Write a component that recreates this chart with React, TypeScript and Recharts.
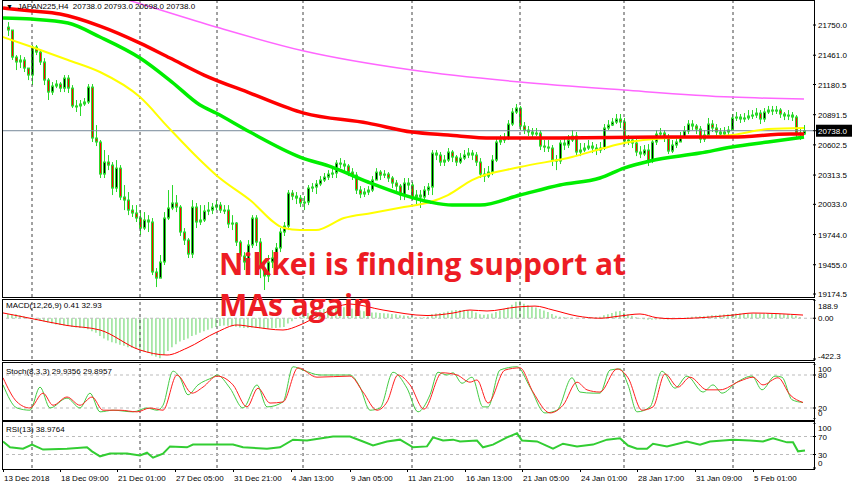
import React from 'react';
import { ComposedChart, Bar, Line, XAxis, YAxis, ReferenceLine } from 'recharts';

// JAPAN225 H4 candles, 13 Dec 2018 - 6 Feb 2019 (open = previous close)
const firstOpen = 21730;
const closes = [
  21702, 21443, 21396, 21415, 21338, 21271, 21539, 21491, 21396, 21223,
  21108, 21166, 21185, 21146, 21242, 21146, 20975, 20975, 20994, 21013,
  21156, 20668, 20630, 20323, 20438, 20409, 20189, 20380, 20103, 20074,
  19978, 19950, 19902, 19806, 19883, 19864, 19385, 19327, 19481, 19902,
  19998, 20046, 20007, 19768, 19691, 19557, 20007, 19864, 19883, 19969,
  19978, 20007, 20026, 19978, 19978, 19845, 19854, 19672, 19538, 19481,
  19644, 19902, 19672, 19423, 19347, 19481, 19519, 19615, 19768, 19825,
  20141, 20112, 20093, 20046, 20055, 20189, 20199, 20228, 20266, 20294,
  20323, 20333, 20428, 20419, 20400, 20342, 20313, 20170, 20132, 20151,
  20170, 20266, 20342, 20313, 20323, 20285, 20237, 20208, 20122, 20237,
  20218, 20103, 20122, 20103, 20170, 20199, 20524, 20505, 20438, 20457,
  20534, 20486, 20438, 20476, 20505, 20524, 20505, 20438, 20323, 20304,
  20342, 20457, 20630, 20649, 20668, 20802, 20917, 20955, 20783, 20744,
  20726, 20706, 20716, 20591, 20582, 20572, 20457, 20448, 20620, 20601,
  20649, 20687, 20534, 20553, 20572, 20591, 20572, 20553, 20572, 20764,
  20792, 20821, 20850, 20821, 20639, 20649, 20620, 20534, 20515, 20553,
  20448, 20630, 20706, 20716, 20668, 20543, 20601, 20630, 20677, 20735,
  20802, 20783, 20754, 20658, 20697, 20802, 20764, 20726, 20706, 20726,
  20744, 20860, 20869, 20850, 20860, 20879, 20888, 20907, 20850, 20917,
  20936, 20926, 20936, 20898, 20879, 20888, 20869, 20716, 20706, 20738,
];
const highs = [
  21778, 21702, 21462, 21462, 21443, 21338, 21558, 21558, 21510, 21433,
  21242, 21204, 21223, 21204, 21271, 21271, 21175, 21032, 21032, 21051,
  21185, 21185, 20792, 20649, 20553, 20505, 20438, 20457, 20409, 20218,
  20151, 20026, 20026, 19978, 19959, 19930, 19902, 19423, 19548, 19959,
  20170, 20218, 20122, 20026, 19806, 19710, 20074, 20046, 20026, 20026,
  20055, 20046, 20074, 20055, 20026, 20026, 19930, 19864, 19691, 19576,
  19691, 19930, 19930, 19710, 19481, 19548, 19595, 19663, 19806, 19864,
  20170, 20170, 20151, 20122, 20112, 20218, 20237, 20266, 20304, 20333,
  20361, 20380, 20457, 20476, 20457, 20419, 20380, 20342, 20208, 20189,
  20208, 20304, 20380, 20361, 20361, 20342, 20304, 20266, 20228, 20285,
  20285, 20247, 20170, 20170, 20208, 20237, 20553, 20553, 20534, 20505,
  20572, 20553, 20505, 20524, 20553, 20572, 20553, 20534, 20476, 20380,
  20400, 20505, 20668, 20697, 20716, 20840, 20955, 20994, 20975, 20821,
  20783, 20764, 20764, 20744, 20649, 20649, 20601, 20505, 20649, 20668,
  20697, 20744, 20726, 20620, 20620, 20649, 20630, 20610, 20630, 20802,
  20840, 20860, 20898, 20898, 20860, 20697, 20687, 20668, 20591, 20601,
  20610, 20668, 20744, 20764, 20744, 20706, 20649, 20687, 20726, 20783,
  20840, 20840, 20802, 20783, 20744, 20860, 20840, 20802, 20764, 20773,
  20783, 20898, 20917, 20898, 20907, 20936, 20936, 20955, 20936, 20955,
  20975, 20975, 20975, 20955, 20917, 20936, 20917, 20888, 20764, 20793,
];
const lows = [
  21645, 21415, 21319, 21338, 21300, 21223, 21175, 21462, 21367, 21175,
  21032, 21080, 21146, 21108, 21108, 21099, 20955, 20917, 20879, 20975,
  20994, 20630, 20591, 20285, 20285, 20361, 20122, 20151, 20074, 19978,
  19930, 19912, 19864, 19739, 19787, 19768, 19356, 19241, 19356, 19452,
  19883, 19978, 19959, 19730, 19644, 19519, 19519, 19806, 19835, 19864,
  19930, 19940, 19978, 19950, 19940, 19806, 19787, 19634, 19500, 19404,
  19423, 19615, 19634, 19327, 19213, 19289, 19423, 19481, 19576, 19730,
  19787, 20074, 20036, 20007, 19978, 20026, 20151, 20132, 20208, 20247,
  20266, 20285, 20285, 20380, 20342, 20304, 20266, 20132, 20093, 20103,
  20122, 20151, 20266, 20266, 20285, 20247, 20189, 20151, 20074, 20074,
  20170, 20074, 20017, 19998, 20074, 20122, 20122, 20457, 20400, 20400,
  20438, 20438, 20400, 20419, 20457, 20476, 20457, 20400, 20285, 20247,
  20285, 20313, 20438, 20601, 20620, 20649, 20783, 20898, 20744, 20706,
  20687, 20668, 20687, 20553, 20534, 20534, 20400, 20361, 20419, 20553,
  20572, 20630, 20495, 20495, 20534, 20553, 20524, 20505, 20524, 20553,
  20744, 20783, 20802, 20764, 20601, 20601, 20572, 20495, 20476, 20495,
  20400, 20428, 20601, 20668, 20630, 20515, 20524, 20572, 20630, 20687,
  20706, 20744, 20706, 20620, 20630, 20687, 20726, 20687, 20668, 20677,
  20697, 20744, 20831, 20812, 20821, 20840, 20850, 20860, 20802, 20821,
  20898, 20888, 20898, 20860, 20840, 20840, 20831, 20677, 20649, 20698,
];

// MACD(12,26,9) histogram, one value per candle
const macdHist = [
  45, 42, 40, 30, 20, 5, -10, -20, -25, -35,
  -45, -55, -65, -70, -75, -80, -90, -95, -100, -105,
  -115, -135, -150, -185, -210, -230, -250, -260, -275, -285,
  -300, -305, -315, -330, -345, -355, -385, -400, -415, -380,
  -340, -300, -270, -240, -225, -210, -185, -170, -150, -135,
  -120, -105, -90, -80, -75, -78, -82, -88, -95, -100,
  -100, -95, -98, -105, -110, -108, -105, -100, -95, -90,
  -55, -30, -5, 15, 35, 55, 65, 75, 85, 95,
  105, 110, 120, 120, 115, 110, 100, 90, 80, 72,
  65, 60, 60, 55, 52, 50, 45, 40, 30, 28,
  22, 15, 10, 8, 10, 15, 40, 50, 55, 60,
  70, 80, 85, 85, 82, 80, 75, 60, 40, 35,
  40, 50, 65, 80, 95, 110, 140, 170, 180, 150,
  135, 120, 110, 95, 80, 65, 45, 25, 15, 10,
  8, 5, 3, 3, 5, 5, 8, 10, 15, 30,
  40, 55, 70, 75, 60, 40, 25, 10, -5, -10,
  -15, -15, -12, -10, -10, -12, -10, -8, -5, 2,
  10, 15, 18, 20, 20, 25, 30, 32, 35, 38,
  40, 45, 48, 48, 47, 47, 47, 48, 46, 46,
  46, 46, 45, 44, 42, 40, 35, 25, 12, 0.41,
];

// [candle index, value]
const macdSignal = [
  [-1.25, 55], [5.5, 0], [14.75, -75], [23, -122], [33, -329], [39.75, -381], [44.75, -309],
  [52.25, -143], [57.25, -70], [61.25, -90], [68.75, -122], [73, -70], [78, 33], [85.5, 147],
  [93.75, 85], [104.75, 28], [111.25, 54], [115.5, 85], [119.75, 75], [127.25, 116], [131.75, 126],
  [136.25, 85], [142.25, 23], [148, 0], [153, 23], [158, 44], [162.25, 5], [166.25, -5], [173, 5],
  [181.25, 33], [186.25, 54], [198.75, 33],
];
const maRed = [
  [-1.25, 21912], [6, 21884], [13, 21855], [23, 21740], [33, 21577], [40.5, 21434], [49, 21271],
  [60.5, 21099], [74, 20907], [90, 20811], [101, 20725], [110, 20697], [121, 20668], [138, 20668],
  [163, 20677], [181, 20677], [195.5, 20706], [199, 20706],
];
const maGreen = [
  [-1.25, 21817], [6, 21807], [15, 21769], [23, 21635], [33, 21434], [41, 21204], [48, 20984],
  [52, 20907], [60.5, 20725], [73, 20486], [81, 20390], [90, 20247], [99, 20122], [105.5, 20055],
  [111, 20026], [118, 20026], [128, 20122], [138, 20218], [148, 20285], [154, 20380], [160.5, 20448],
  [173, 20524], [181, 20582], [190, 20630], [199, 20677],
];
const maYellow = [
  [-1.25, 21635], [6, 21539], [15, 21415], [23, 21300], [33, 21060], [40, 20773], [48, 20457],
  [52, 20314], [60.5, 20074], [69, 19806], [73, 19787], [77, 19787], [84, 19902], [91, 19950],
  [99, 20007], [105.5, 20055], [110, 20122], [116, 20266], [128, 20390], [141, 20486], [149, 20572],
  [154, 20620], [165, 20668], [173, 20677], [181, 20697], [190, 20754], [199, 20764],
];
const maMagenta = [
  [13, 22180], [30, 21989], [52, 21731], [74, 21501], [101, 21319], [128, 21204], [154, 21127],
  [181, 21060], [199, 21041],
];
const stochMain = [
  [-1.25, 62], [2.25, 20], [5.5, 16], [8, 58], [10.5, 20], [14.75, 38], [18, 20], [20.5, 47], [23, 13],
  [26.25, 16], [31.25, 13], [34.75, 20], [37.25, 16], [38.75, 25], [41.25, 87], [43, 75], [45, 44],
  [47.5, 62], [51.25, 76], [52.25, 80], [55.5, 56], [58.75, 20], [62.25, 62], [64.75, 22], [68.75, 31],
  [71.25, 95], [73.75, 89], [78, 80], [85.5, 80], [88, 58], [90.5, 16], [93, 20], [96.25, 85],
  [99.75, 56], [102.5, 13], [105.5, 44], [107.5, 85], [109.75, 80], [111.25, 84], [113.5, 65], [116, 76],
  [118.75, 22], [120, 22], [123, 89], [127.25, 95], [130.5, 58], [134.25, 11], [137.25, 16], [141, 75],
  [143, 49], [146.25, 47], [148, 47], [150.5, 89], [153, 91], [155, 62], [157.25, 13], [160.5, 22],
  [163.5, 87], [166.75, 56], [169.75, 78], [173.75, 49], [176.25, 62], [178.5, 47], [182.25, 67],
  [186, 78], [188.5, 53], [191.75, 78], [193.5, 76], [196, 35], [198.75, 30],
];
const stochSignal = [
  [-1.25, 75], [2.25, 31], [5.5, 20], [8.75, 47], [11.25, 25], [14.75, 40], [18, 25], [21, 40],
  [23.75, 16], [28, 16], [32.25, 13], [35.5, 20], [38.75, 16], [42.25, 80], [46, 47], [48.75, 58],
  [52.25, 78], [56.25, 62], [59.75, 22], [62.5, 56], [65.5, 29], [68.75, 31], [72.5, 93], [77.25, 76],
  [85.5, 78], [88.75, 49], [92.25, 16], [94.75, 31], [97.5, 80], [100.5, 62], [104, 18], [108.5, 84],
  [112.25, 80], [115.5, 67], [117.25, 71], [120, 29], [124.25, 89], [128, 93], [131.25, 49], [135.5, 11],
  [138.75, 25], [142.25, 67], [144.75, 53], [148, 49], [152.25, 91], [155, 75], [158.5, 16], [161.25, 22],
  [164.25, 82], [167.5, 58], [170.5, 76], [174.75, 53], [178, 53], [183, 69], [186.25, 76], [188.75, 62],
  [192.5, 75], [195.5, 44], [198.75, 30],
];
const rsi = [
  [-1.25, 59], [0.5, 46], [3.75, 43], [6, 52], [8.75, 41], [14.75, 43], [19.75, 46], [21, 37], [23, 26],
  [25.5, 32], [29.75, 32], [33, 28], [34.75, 34], [36.25, 23], [38.75, 32], [40.5, 48], [44.75, 46],
  [46.25, 52], [52.25, 52], [56.25, 52], [58.75, 46], [64.75, 43], [68, 46], [71.25, 63], [74.75, 61],
  [81.25, 70], [85.5, 70], [88.75, 59], [91.25, 50], [94.75, 59], [98, 63], [101.25, 46], [104.75, 48],
  [106.25, 68], [108.75, 61], [111.25, 63], [113, 59], [117.25, 61], [118.75, 46], [121.25, 52],
  [124.75, 68], [127.25, 77], [128.5, 61], [132.25, 59], [136.25, 43], [138.75, 54], [142.25, 48],
  [146.25, 52], [149.75, 63], [153, 66], [155, 50], [157.25, 43], [159.75, 43], [161.25, 54],
  [164.75, 48], [169.75, 59], [173, 52], [175.5, 59], [181.25, 63], [185.5, 61], [188.75, 59],
  [191.25, 66], [194.75, 57], [196.25, 57], [197.5, 37], [199.25, 39],
];

const priceTicks = [21750, 21461, 21180.5, 20891.5, 20602.5, 20313.5, 20033, 19744, 19455, 19174.5];
const lastPrice = 20738;
const macdTicks = [188.9, 0, -422.3];
const stochTicks = [100, 80, 20, 0];
const rsiTicks = [100, 70, 30, 0];
const timeTickIdx = [-1.25, 13, 27.25, 41.75, 56.25, 70.75, 85.5, 99.75, 114.25, 128.5, 143, 157.25, 171.75, 186.25];
const timeLabels = [
  '13 Dec 2018', '18 Dec 09:00', '21 Dec 01:00', '27 Dec 05:00', '31 Dec 21:00', '4 Jan 13:00',
  '9 Jan 05:00', '11 Jan 21:00', '16 Jan 13:00', '21 Jan 05:00', '24 Jan 01:00', '28 Jan 17:00',
  '31 Jan 09:00', '5 Feb 01:00',
];
const dayLineIdx = [6, 33, 52.25, 73.75, 101, 128, 154, 181.25];

const FONT = '"Liberation Sans", Arial, sans-serif';
const X_DOMAIN: [number, number] = [-1.25, 201.25];
const WICK = '#2ad82a';

const bars = closes.map((c, i) => {
  const open = i === 0 ? firstOpen : closes[i - 1];
  const high = Math.max(highs[i], open, c);
  const low = Math.min(lows[i], open, c);
  return { i, open, close: c, high, low, range: [low, high], hist: macdHist[i] };
});
const pts = (arr: number[][]) => arr.map(([i, v]) => ({ i, v }));

const Candle = (props: any) => {
  const { x, y, width, height, payload } = props;
  if (!payload) return null;
  const { open, close, high, low } = payload;
  const top = Math.min(y, y + height);
  const h = Math.abs(height);
  const cx = Math.round(x + width / 2) + 0.5;
  const py = (v: number) => top + ((high - v) / (high - low || 1)) * h;
  const bTop = py(Math.max(open, close));
  const bBot = py(Math.min(open, close));
  const up = close >= open;
  return (
    <g>
      <line x1={cx} x2={cx} y1={top} y2={top + h} stroke={WICK} strokeWidth={1} />
      <rect x={cx - 1} y={bTop} width={2} height={Math.max(bBot - bTop, 1)}
        fill={up ? '#000' : '#ff0000'} stroke={WICK} strokeWidth={1} />
    </g>
  );
};

const PriceTick = ({ x, y, payload }: any) => {
  const v = payload.value;
  if (v === lastPrice) {
    return (
      <g>
        <rect x={x - 2} y={y - 6} width={36} height={12} fill="#000" />
        <text x={x} y={y} dy={3} fontSize={8} fontFamily={FONT} fill="#fff">{v.toFixed(1)}</text>
      </g>
    );
  }
  return <text x={x} y={y} dy={3} fontSize={8} fontFamily={FONT} fill="#000">{v.toFixed(1)}</text>;
};

const SideTick = ({ x, y, payload, shifts, fmt }: any) => {
  const v = payload.value;
  const dy = (shifts && shifts[String(v)]) || 0;
  return (
    <text x={x} y={y + dy} dy={3} fontSize={8} fontFamily={FONT} fill="#000">
      {fmt ? fmt(v) : v}
    </text>
  );
};

const TimeTick = ({ x, y, payload }: any) => {
  const k = timeTickIdx.indexOf(payload.value);
  return (
    <g>
      <line x1={x + 0.5} x2={x + 0.5} y1={y + 1} y2={y + 4} stroke="#000" />
      <text x={x + 1} y={y + 13} fontSize={8} fontFamily={FONT} fill="#000">{timeLabels[k]}</text>
    </g>
  );
};

const dayLines = () =>
  dayLineIdx.map((d) => (
    <ReferenceLine key={d} x={d} stroke="#444" strokeDasharray="3 3" ifOverflow="hidden" />
  ));

const frame = (top: number, height: number): React.CSSProperties => ({
  position: 'absolute', left: 2, top, width: 813, height, border: '1px solid #000', boxSizing: 'border-box',
});
const label = (top: number): React.CSSProperties => ({
  position: 'absolute', left: 6, top, fontSize: 8, lineHeight: '10px', fontFamily: FONT, color: '#000', whiteSpace: 'pre',
});

export default function App() {
  return (
    <div style={{ position: 'absolute', left: 0, top: 0, width: 852, height: 485, background: '#fff', overflow: 'hidden' }}>
      {/* price window: plot 1..297 */}
      <div style={{ position: 'absolute', left: 0, top: 1 }}>
        <ComposedChart width={852} height={302} data={bars} margin={{ top: 0, right: 0, bottom: 6, left: 3 }}>
          <XAxis dataKey="i" type="number" domain={X_DOMAIN} hide allowDataOverflow />
          <YAxis orientation="right" width={39} type="number" domain={[19146, 21980]} allowDataOverflow
            ticks={[...priceTicks, lastPrice]} interval={0} tick={<PriceTick />} tickSize={3} tickMargin={2}
            axisLine={false} tickLine={{ stroke: '#000' }} />
          {dayLines()}
          <ReferenceLine y={lastPrice} stroke="#778899" />
          <Bar dataKey="range" barSize={4} shape={<Candle />} isAnimationActive={false} />
          <Line data={pts(maMagenta)} dataKey="v" type="monotone" stroke="#ff66ff" strokeWidth={1.5} dot={false} isAnimationActive={false} />
          <Line data={pts(maYellow)} dataKey="v" type="monotone" stroke="#ffff00" strokeWidth={2} dot={false} isAnimationActive={false} />
          <Line data={pts(maGreen)} dataKey="v" type="monotone" stroke="#00ee00" strokeWidth={3.5} dot={false} isAnimationActive={false} />
          <Line data={pts(maRed)} dataKey="v" type="monotone" stroke="#ff0000" strokeWidth={3.5} dot={false} isAnimationActive={false} />
        </ComposedChart>
      </div>

      {/* MACD: plot 300..359 */}
      <div style={{ position: 'absolute', left: 0, top: 300 }}>
        <ComposedChart width={852} height={65} data={bars} margin={{ top: 0, right: 0, bottom: 6, left: 3 }}>
          <XAxis dataKey="i" type="number" domain={X_DOMAIN} hide allowDataOverflow />
          <YAxis orientation="right" width={39} type="number" domain={[-422.3, 188.9]} allowDataOverflow
            ticks={macdTicks} interval={0} tickSize={3} tickMargin={2} axisLine={false} tickLine={{ stroke: '#000' }}
            tick={<SideTick shifts={{ '188.9': 6, '-422.3': -3 }} fmt={(v: number) => (v === 0 ? '0.00' : v.toFixed(1))} />} />
          {dayLines()}
          <ReferenceLine y={0} stroke="#bbbbbb" strokeDasharray="3 3" />
          <Bar dataKey="hist" barSize={1} fill="#4fd04f" isAnimationActive={false} />
          <Line data={pts(macdSignal)} dataKey="v" type="monotone" stroke="#ff0000" strokeWidth={1} dot={false} isAnimationActive={false} />
        </ComposedChart>
      </div>

      {/* Stochastic: plot 364..419 */}
      <div style={{ position: 'absolute', left: 0, top: 364 }}>
        <ComposedChart width={852} height={55} data={bars} margin={{ top: 0, right: 0, bottom: 0, left: 3 }}>
          <XAxis dataKey="i" type="number" domain={X_DOMAIN} hide allowDataOverflow />
          <YAxis orientation="right" width={39} type="number" domain={[0, 100]} allowDataOverflow
            ticks={stochTicks} interval={0} tickSize={3} tickMargin={2} axisLine={false} tickLine={{ stroke: '#000' }}
            tick={<SideTick shifts={{ '100': 5, '0': -6 }} />} />
          {dayLines()}
          <ReferenceLine y={80} stroke="#bbbbbb" strokeDasharray="3 3" />
          <ReferenceLine y={20} stroke="#bbbbbb" strokeDasharray="3 3" />
          <Line data={pts(stochMain)} dataKey="v" type="monotone" stroke="#44cc44" strokeWidth={1} dot={false} isAnimationActive={false} />
          <Line data={pts(stochSignal)} dataKey="v" type="monotone" stroke="#ff2020" strokeWidth={1} dot={false} isAnimationActive={false} />
        </ComposedChart>
      </div>

      {/* RSI + time axis: plot 423..468 */}
      <div style={{ position: 'absolute', left: 0, top: 423 }}>
        <ComposedChart width={852} height={62} data={bars} margin={{ top: 0, right: 0, bottom: 0, left: 3 }}>
          <XAxis dataKey="i" type="number" domain={X_DOMAIN} allowDataOverflow height={17}
            ticks={timeTickIdx} interval={0} tickSize={0} tickMargin={0} axisLine={false} tickLine={false}
            tick={<TimeTick />} />
          <YAxis orientation="right" width={39} type="number" domain={[0, 100]} allowDataOverflow
            ticks={rsiTicks} interval={0} tickSize={3} tickMargin={2} axisLine={false} tickLine={{ stroke: '#000' }}
            tick={<SideTick shifts={{ '100': 4.5, '0': -5.5 }} />} />
          {dayLines()}
          <ReferenceLine y={70} stroke="#bbbbbb" strokeDasharray="3 3" />
          <ReferenceLine y={30} stroke="#bbbbbb" strokeDasharray="3 3" />
          <Line data={pts(rsi)} dataKey="v" type="linear" stroke="#32cd32" strokeWidth={2} dot={false} isAnimationActive={false} />
        </ComposedChart>
      </div>

      <div style={frame(0, 298)} />
      <div style={frame(299, 62)} />
      <div style={frame(362, 59)} />
      <div style={frame(421, 49)} />

      <div style={label(2)}>
        <span style={{ fontSize: 7 }}>▼</span>{'  JAPAN225,H4  20738.0 20793.0 20698.0 20738.0'}
      </div>
      <div style={label(301)}>MACD(12,26,9) 0.41 32.93</div>
      <div style={label(367)}>Stoch(8,3,3) 29.9356 29.8957</div>
      <div style={label(425)}>RSI(13) 38.9764</div>

      <div style={{
        position: 'absolute', left: 219, top: 243, fontFamily: '"Open Sans", sans-serif', fontWeight: 700,
        fontSize: 30, lineHeight: '41px', color: '#ed1c24', whiteSpace: 'pre',
      }}>
        {'Nikkei is finding support at\nMAs again'}
      </div>
    </div>
  );
}
